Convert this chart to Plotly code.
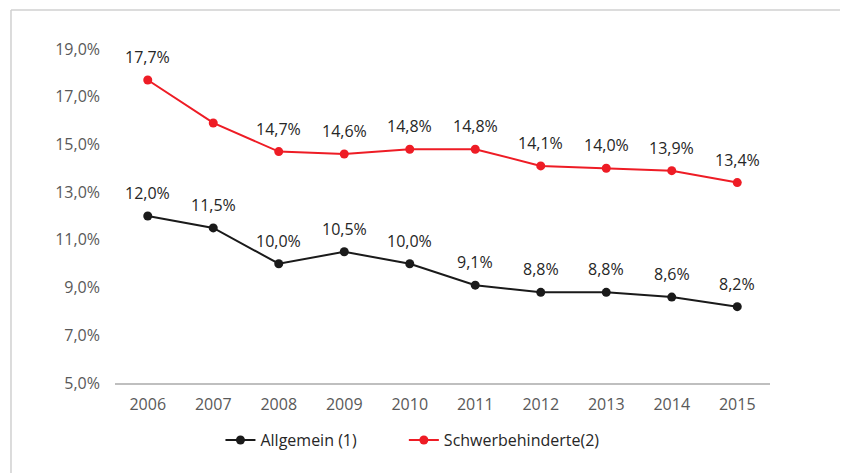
import plotly.graph_objects as go

years = ["2006", "2007", "2008", "2009", "2010", "2011", "2012", "2013", "2014", "2015"]
allgemein = [12.0, 11.5, 10.0, 10.5, 10.0, 9.1, 8.8, 8.8, 8.6, 8.2]
schwer = [17.7, 15.9, 14.7, 14.6, 14.8, 14.8, 14.1, 14.0, 13.9, 13.4]
schwer_labels = ["17,7%", "", "14,7%", "14,6%", "14,8%", "14,8%", "14,1%", "14,0%", "13,9%", "13,4%"]
allg_labels = ["12,0%", "11,5%", "10,0%", "10,5%", "10,0%", "9,1%", "8,8%", "8,8%", "8,6%", "8,2%"]
y_ticks = [5, 7, 9, 11, 13, 15, 17, 19]
y_ticktext = ["5,0%", "7,0%", "9,0%", "11,0%", "13,0%", "15,0%", "17,0%", "19,0%"]

BLACK = "#1a1a1a"
RED = "#ee1c25"
FONT = "Open Sans"

fig = go.Figure()
fig.add_trace(go.Scatter(x=years, y=allgemein, mode="lines+markers", name="Allgemein (1)",
                         line=dict(color=BLACK, width=2), marker=dict(size=9, color=BLACK),
                         legend="legend"))
fig.add_trace(go.Scatter(x=years, y=schwer, mode="lines+markers", name="Schwerbehinderte(2)",
                         line=dict(color=RED, width=2), marker=dict(size=9, color=RED),
                         legend="legend2"))

annotations = []
for ys, labs in [(allgemein, allg_labels), (schwer, schwer_labels)]:
    for i, (y, t) in enumerate(zip(ys, labs)):
        if t:
            annotations.append(dict(x=i, y=y, xref="x", yref="y", text=t, showarrow=False,
                                    yshift=23,
                                    font=dict(family=FONT, size=16, color="#262626")))

legend_font = dict(family=FONT, size=16, color="#262626")
fig.update_layout(
    width=832, height=465,
    margin=dict(l=107, r=70, t=41, b=90),
    paper_bgcolor="white", plot_bgcolor="white",
    font=dict(family=FONT, size=16, color="#595959"),
    annotations=annotations,
    showlegend=True,
    legend=dict(orientation="h", x=0.161, y=-0.12, xanchor="left", yanchor="top",
                font=legend_font),
    legend2=dict(orientation="h", x=0.441, y=-0.12, xanchor="left", yanchor="top",
                 font=legend_font),
    xaxis=dict(type="category", range=[-0.5, 9.5], showgrid=False, showline=True,
               linecolor="#bfbfbf", linewidth=1.5, ticks="", ticklabelstandoff=6,
               tickfont=dict(size=16, color="#595959")),
    yaxis=dict(range=[5, 19], tickvals=y_ticks, ticktext=y_ticktext, showgrid=False,
               showline=False, zeroline=False, ticks="", ticklabelstandoff=14,
               tickfont=dict(size=16, color="#595959")),
    shapes=[
        dict(type="line", xref="paper", yref="paper", x0=-0.1588, x1=1.12, y0=1.1168, y1=1.1168,
             line=dict(color="#d0d0d0", width=1.5)),
        dict(type="line", xref="paper", yref="paper", x0=-0.1588, x1=-0.1588, y0=-0.3, y1=1.1168,
             line=dict(color="#d0d0d0", width=1.5)),
    ],
)

fig.write_html("out.html")
